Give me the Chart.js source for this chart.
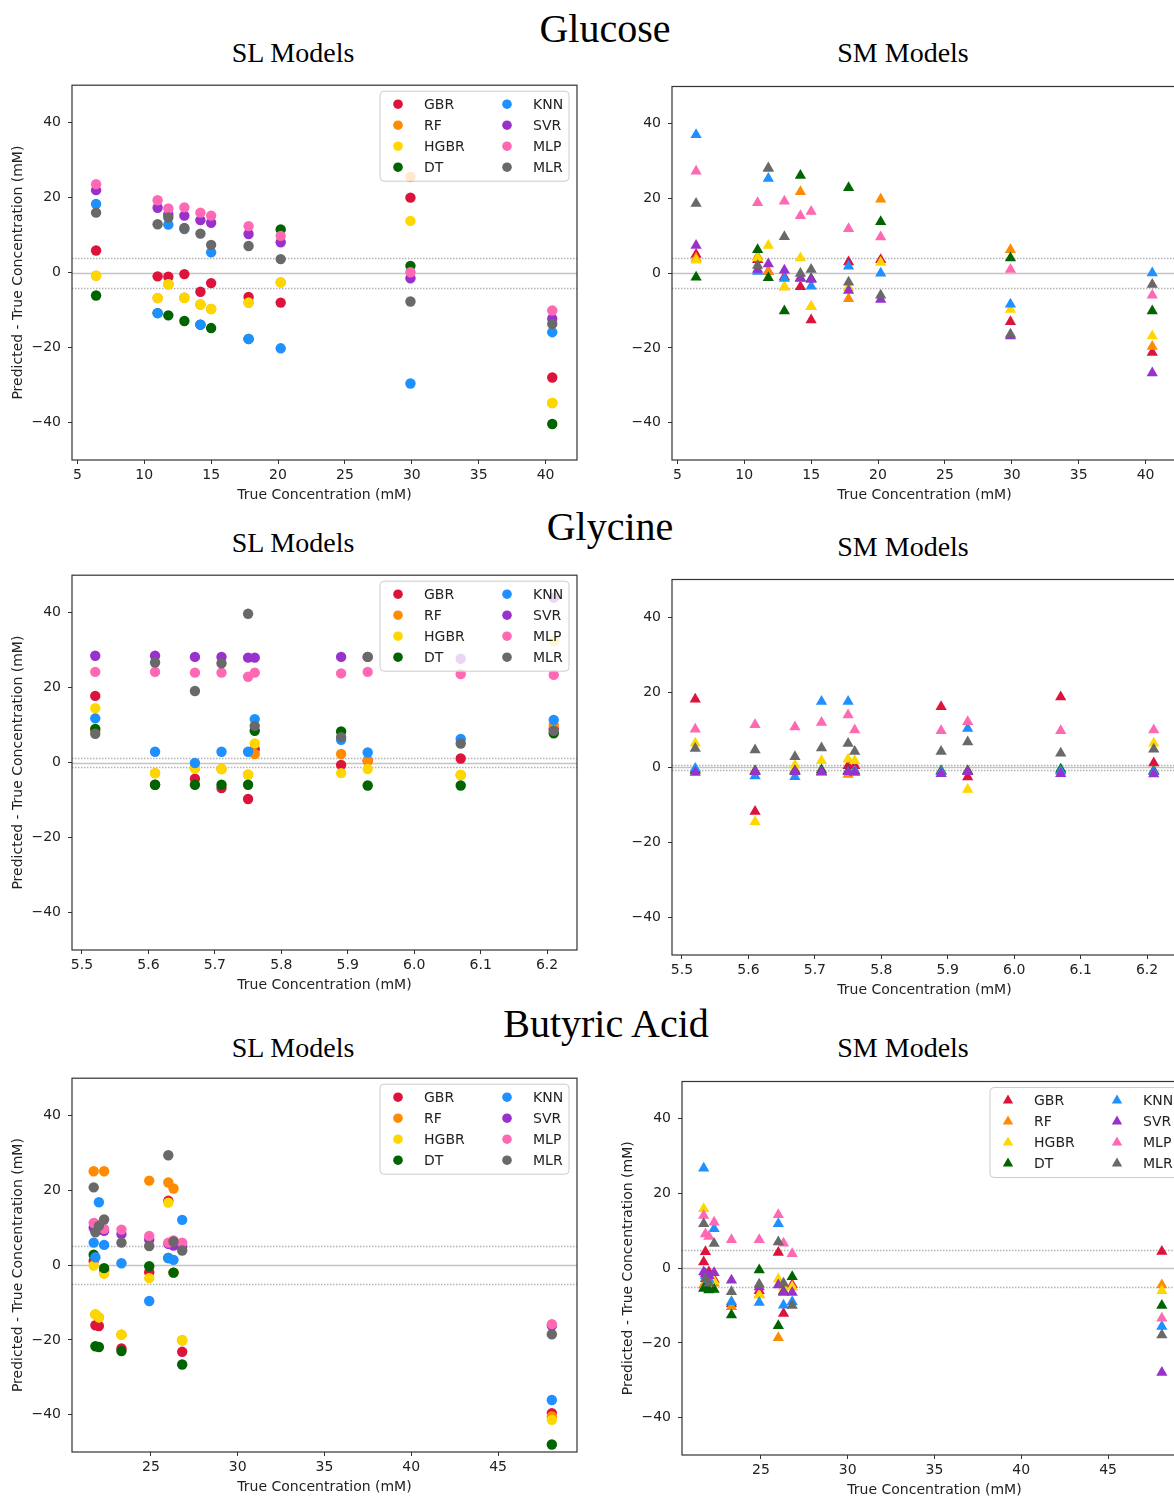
<!DOCTYPE html>
<html><head><meta charset="utf-8">
<script src="https://cdn.jsdelivr.net/npm/chart.js@4.4.1/dist/chart.umd.min.js"></script>
<style>
html,body{margin:0;padding:0;background:#fff;}
#page{position:relative;width:1174px;height:1500px;overflow:hidden;background:#fff;}
.t{position:absolute;width:400px;text-align:center;font-family:'Liberation Serif','Times New Roman',serif;line-height:1;color:#000;white-space:nowrap}
.big{font-size:40px}
.sub{font-size:28px}
canvas{position:absolute}
</style></head><body><div id="page">
<div class="t big" style="left:405px;top:9px">Glucose</div>
<div class="t sub" style="left:93px;top:39px">SL Models</div>
<div class="t sub" style="left:703px;top:39px">SM Models</div>
<div class="t big" style="left:410px;top:507px">Glycine</div>
<div class="t sub" style="left:93px;top:529px">SL Models</div>
<div class="t sub" style="left:703px;top:533px">SM Models</div>
<div class="t big" style="left:406px;top:1004px">Butyric Acid</div>
<div class="t sub" style="left:93px;top:1034px">SL Models</div>
<div class="t sub" style="left:703px;top:1034px">SM Models</div>
<canvas id="c1"></canvas><canvas id="c2"></canvas>
<canvas id="c3"></canvas><canvas id="c4"></canvas>
<canvas id="c5"></canvas><canvas id="c6"></canvas>
</div>
<script>
// ---------- categories / ticks ----------
const models = ['GBR','RF','HGBR','DT','KNN','SVR','MLP','MLR'];
const yTicks = [-40, -20, 0, 20, 40];
const gluTicks = [5, 10, 15, 20, 25, 30, 35, 40];
const glyTicks = [5.5, 5.6, 5.7, 5.8, 5.9, 6.0, 6.1, 6.2];
const butTicks = [25, 30, 35, 40, 45];
const gluBand = [-4, 0, 4];
const glySLBand = [-1.3, 0, 1.3];
const glySMBand = [-0.7, 0, 0.7];
const butBand = [-5, 0, 5];

// ---------- true concentrations ----------
const gluX = [6.4, 11.0, 11.8, 13.0, 14.2, 15.0, 17.8, 20.2, 29.9, 40.5];
const glyX = [5.52, 5.61, 5.67, 5.71, 5.75, 5.76, 5.89, 5.93, 6.07, 6.21];
const butX = [21.7, 21.8, 22.0, 22.3, 23.3, 24.9, 26.0, 26.3, 26.8, 48.1];

// ---------- Glucose SL (predicted - true) ----------
const gluSL_GBR  = [5.9, -1.0, -1.1, -0.4, -5.1, -2.8, -6.5, -8.0, 20.0, -28.0];
const gluSL_RF   = [-0.8, -6.8, -3.1, -6.7, -8.5, -9.7, -8.0, -2.6, 25.5, -34.8];
const gluSL_HGBR = [-0.8, -6.8, -3.1, -6.7, -8.5, -9.7, -8.0, -2.6, 13.8, -34.8];
const gluSL_DT   = [-6.1, -10.8, -11.4, -12.9, -13.9, -14.8, -17.7, 11.5, 1.8, -40.4];
const gluSL_KNN  = [18.3, -10.8, 12.8, 11.6, -13.9, 5.4, -17.7, -20.2, -29.6, -15.9];
const gluSL_SVR  = [22.0, 17.3, 15.5, 15.2, 14.0, 13.3, 10.3, 8.1, -1.5, -12.3];
const gluSL_MLP  = [23.6, 19.3, 17.1, 17.4, 16.0, 15.2, 12.4, 9.8, 0.1, -10.1];
const gluSL_MLR  = [16.0, 12.9, 14.7, 11.9, 10.4, 7.4, 7.1, 3.6, -7.7, -13.7];

// ---------- Glucose SM ----------
const gluSM_GBR  = [5.0, 3.6, 0.5, -1.0, -3.6, -12.5, 3.0, 3.6, -13.0, -21.2];
const gluSM_RF   = [4.0, 4.5, 0.5, -3.7, 21.8, -9.0, -6.8, 19.8, 6.3, -19.6];
const gluSM_HGBR = [3.5, 4.1, 7.4, -3.7, 4.1, -9.0, -3.9, 2.9, -9.7, -16.8];
const gluSM_DT   = [-1.1, 6.3, -1.2, -10.1, 26.2, -1.5, 22.9, 13.8, 4.1, -10.1];
const gluSM_KNN  = [37.1, 0.5, 25.4, -1.4, -1.5, -3.5, 1.9, 0.0, -8.3, 0.1];
const gluSM_SVR  = [7.4, 1.0, 2.5, 0.8, -1.2, -1.7, -4.6, -7.0, -16.8, -26.7];
const gluSM_MLP  = [27.3, 18.9, 28.0, 19.3, 15.4, 16.5, 11.9, 9.7, 1.0, -5.9];
const gluSM_MLR  = [18.7, 2.1, 28.2, 9.8, -0.1, 1.0, -2.4, -5.9, -16.3, -3.0];

// ---------- Glycine SL ----------
const glySL_GBR  = [17.8, -5.9, -4.3, -6.8, -9.7, 3.6, -0.6, 0.5, 1.1, 9.0];
const glySL_RF   = [8.5, -2.8, -1.5, -1.7, -3.2, 2.3, 2.3, 0.5, -3.3, 10.0];
const glySL_HGBR = [14.5, -2.8, -1.5, -1.7, -3.2, 5.1, -2.8, -1.7, -3.3, 32.4];
const glySL_DT   = [9.0, -5.9, -5.9, -5.9, -5.9, 8.5, 8.3, -6.1, -6.1, 7.8];
const glySL_KNN  = [11.8, 2.9, -0.1, 2.9, 2.9, 11.6, 6.1, 2.7, 6.3, 11.4];
const glySL_SVR  = [28.5, 28.5, 28.2, 28.2, 28.0, 28.0, 28.2, 28.2, 27.7, 44.0];
const glySL_MLP  = [24.2, 24.2, 24.0, 24.0, 22.9, 24.0, 23.8, 24.2, 23.6, 23.4];
const glySL_MLR  = [7.7, 26.7, 19.1, 26.5, 39.7, 9.8, 6.8, 28.2, 5.1, 8.5];

// ---------- Glycine SM ----------
const glySM_GBR  = [18.1, -11.8, -0.8, -1.3, 0.4, 0.4, 16.1, -2.6, 18.7, 1.1];
const glySM_RF   = [-0.8, -1.0, -1.0, -1.3, -1.9, -1.0, -1.0, -1.0, -1.0, -1.0];
const glySM_HGBR = [6.4, -14.5, 0.5, 1.7, 2.1, 1.7, -1.0, -5.9, -1.0, 6.4];
const glySM_DT   = [-0.8, -1.0, -1.0, -0.7, -1.0, -1.0, -1.0, -1.0, -0.5, -1.0];
const glySM_KNN  = [-0.3, -2.3, -2.5, 17.5, 17.5, -1.0, -1.2, 10.3, -1.0, -1.2];
const glySM_SVR  = [-1.4, -1.2, -1.2, -1.2, -1.2, -1.4, -1.7, -1.2, -1.7, -1.8];
const glySM_MLP  = [10.1, 11.3, 10.7, 11.9, 13.9, 9.9, 9.7, 12.1, 9.7, 9.9];
const glySM_MLR  = [5.0, 4.6, 2.8, 5.1, 6.3, 4.2, 4.2, 6.7, 3.7, 4.8];

// ---------- Butyric Acid SL ----------
const butSL_GBR  = [1.1, -16.1, -16.3, -1.5, -22.3, -1.9, 17.2, -2.0, -23.2, -39.6];
const butSL_RF   = [25.1, -13.2, -14.0, 25.1, -18.6, 22.6, 22.1, 20.5, -20.1, -40.5];
const butSL_HGBR = [-0.1, -13.2, -14.0, -2.3, -18.6, -3.5, 16.7, -2.0, -20.1, -41.4];
const butSL_DT   = [2.8, -21.7, -21.9, -0.8, -23.0, -0.3, 1.9, -2.0, -26.6, -48.0];
const butSL_KNN  = [6.0, 2.1, 16.8, 5.4, 0.5, -9.6, 1.9, 1.4, 12.1, -36.1];
const butSL_SVR  = [10.0, 9.5, 9.5, 9.2, 8.3, 6.8, 5.7, 5.2, 5.0, -16.2];
const butSL_MLP  = [11.3, 11.0, 10.0, 9.7, 9.5, 7.8, 6.0, 6.6, 6.0, -15.8];
const butSL_MLR  = [20.8, 8.8, 10.5, 12.2, 6.0, 5.1, 29.4, 6.3, 3.9, -18.5];

// ---------- Butyric Acid SM ----------
const butSM_GBR  = [1.7, 4.4, -1.0, -3.0, -9.5, -6.0, 4.2, -12.1, -4.4, 4.5];
const butSM_RF   = [-4.5, -4.0, -5.0, -4.0, -10.3, -7.0, -18.6, -6.0, -5.0, -4.5];
const butSM_HGBR = [15.9, -4.5, -5.5, -3.5, -9.0, -7.2, -2.9, -5.0, -5.0, -6.0];
const butSM_DT   = [-5.4, -5.0, -5.8, -5.7, -12.5, -0.5, -15.4, -6.3, -2.3, -10.0];
const butSM_KNN  = [26.8, -2.0, -3.0, 10.6, -9.0, -9.2, 11.9, -9.9, -9.0, -15.6];
const butSM_SVR  = [-1.0, -1.5, -2.0, -1.2, -3.2, -5.0, -4.5, -6.5, -6.5, -27.9];
const butSM_MLP  = [14.1, 9.2, 8.5, 12.3, 7.6, 7.6, 14.3, 6.7, 3.9, -13.4];
const butSM_MLR  = [11.9, -2.8, -4.0, 6.6, -6.3, -4.3, 7.0, -4.0, -10.0, -17.9];

// ---------- styles ----------
const colors = ['#DC143C','#FF8C00','#FFD700','#006400','#1E90FF','#9932CC','#FF69B4','#696969'];
const FONT = "'DejaVu Sans', Verdana, sans-serif";
const AXIS = '#333333';

const fmt = (v, dec) => (v < 0 ? '\u2212' : '') + Math.abs(v).toFixed(dec);

function drawMarker(ctx, style, x, y, r) {
  ctx.beginPath();
  if (style === 'triangle') {
    ctx.moveTo(x, y - r);
    ctx.lineTo(x + r * 0.866, y + r * 0.5);
    ctx.lineTo(x - r * 0.866, y + r * 0.5);
    ctx.closePath();
  } else {
    ctx.arc(x, y, r, 0, Math.PI * 2);
  }
  ctx.fill();
}

const refLines = {
  id: 'refLines',
  beforeDatasetsDraw(chart, args, opts) {
    const {ctx, chartArea: a, scales: {y}} = chart;
    ctx.save();
    (opts.values || []).forEach(v => {
      const py = Math.round(y.getPixelForValue(v)) + 0.5;
      ctx.beginPath();
      ctx.lineWidth = 1.6;
      if (v === 0) { ctx.setLineDash([]); ctx.strokeStyle = '#c4c4c4'; }
      else { ctx.setLineDash([1.5, 1.5]); ctx.strokeStyle = '#b4b4b4'; }
      ctx.moveTo(a.left, py); ctx.lineTo(a.right, py); ctx.stroke();
    });
    ctx.restore();
  }
};

const frame = {
  id: 'frame',
  afterDatasetsDraw(chart) {
    const {ctx, chartArea: a} = chart;
    ctx.save();
    ctx.strokeStyle = AXIS; ctx.lineWidth = 1.2;
    ctx.strokeRect(a.left, a.top, a.right - a.left, a.bottom - a.top);
    ctx.restore();
  }
};

const cornerLegend = {
  id: 'cornerLegend',
  afterDatasetsDraw(chart, args, opts) {
    if (!opts.show) return;
    const {ctx, chartArea: a} = chart;
    const bx = a.right - 197, by = a.top + 6, bw = 189, bh = 90;
    ctx.save();
    ctx.beginPath();
    if (ctx.roundRect) ctx.roundRect(bx, by, bw, bh, 4); else ctx.rect(bx, by, bw, bh);
    ctx.globalAlpha = 0.8; ctx.fillStyle = '#ffffff'; ctx.fill();
    ctx.globalAlpha = 1; ctx.strokeStyle = '#cccccc'; ctx.lineWidth = 1; ctx.stroke();
    ctx.font = '14px ' + FONT; ctx.textBaseline = 'middle'; ctx.textAlign = 'left';
    chart.data.datasets.forEach((ds, i) => {
      const col = Math.floor(i / 4), row = i % 4;
      const mx = bx + 18 + col * 109, my = by + 13 + row * 21;
      ctx.fillStyle = ds.backgroundColor;
      drawMarker(ctx, opts.style, mx, my, opts.style === 'triangle' ? 6 : 4.8);
      ctx.fillStyle = '#222';
      ctx.fillText(ds.label, mx + 26, my + 1);
    });
    ctx.restore();
  }
};

function build(id, area, xs, xMin, xMax, xTicks, xDec, series, style, band, showLegend, showYTitle) {
  const cv = document.getElementById(id);
  const W = area.x1 - area.x0 + 80, H = area.y1 - area.y0 + 50;
  cv.width = W; cv.height = H;
  cv.style.left = (area.x0 - 72) + 'px'; cv.style.top = (area.y0 - 5) + 'px';
  cv.style.width = W + 'px'; cv.style.height = H + 'px';
  const r = style === 'triangle' ? 6.5 : 5.2;
  const datasets = models.map((m, i) => ({
    label: m,
    data: xs.map((x, j) => ({x: x, y: series[i][j]})),
    backgroundColor: colors[i], borderColor: colors[i], borderWidth: 0,
    pointStyle: style, pointRadius: r, pointHoverRadius: r,
    order: models.length - i
  }));
  const tickFont = {family: FONT, size: 14};
  return new Chart(cv, {
    type: 'scatter',
    data: {datasets},
    options: {
      responsive: false, animation: false, devicePixelRatio: 1,
      layout: {padding: {top: 5, right: 8, left: 0, bottom: 0}},
      plugins: {legend: {display: false}, tooltip: {enabled: false},
        refLines: {values: band}, cornerLegend: {show: showLegend, style: style}},
      scales: {
        x: {
          type: 'linear', min: xMin, max: xMax,
          afterBuildTicks: s => { s.ticks = xTicks.map(v => ({value: v})); },
          afterFit: s => { s.height = 45; s.paddingLeft = 0; s.paddingRight = 0; },
          grid: {drawOnChartArea: false, drawTicks: true, tickLength: 4, color: AXIS, lineWidth: 1},
          border: {display: false},
          ticks: {font: tickFont, color: '#222', padding: 3, maxRotation: 0, autoSkip: false,
                  callback: v => fmt(v, xDec)},
          title: {display: true, text: 'True Concentration (mM)', font: tickFont, color: '#222',
                  padding: {top: 0, bottom: 1}}
        },
        y: {
          type: 'linear', min: -50, max: 50,
          afterBuildTicks: s => { s.ticks = yTicks.map(v => ({value: v})); },
          afterFit: s => { s.width = 72; s.paddingTop = 0; s.paddingBottom = 0; },
          grid: {drawOnChartArea: false, drawTicks: true, tickLength: 4, color: AXIS, lineWidth: 1},
          border: {display: false},
          ticks: {font: tickFont, color: '#222', padding: 7, autoSkip: false, callback: v => fmt(v, 0)},
          title: {display: showYTitle, text: 'Predicted - True Concentration (mM)', font: tickFont,
                  color: '#222', padding: {top: 10, bottom: 0}}
        }
      }
    },
    plugins: [refLines, frame, cornerLegend]
  });
}

build('c1', {x0: 72, y0: 85, x1: 577, y1: 460}, gluX, 4.6, 42.35, gluTicks, 0,
  [gluSL_GBR, gluSL_RF, gluSL_HGBR, gluSL_DT, gluSL_KNN, gluSL_SVR, gluSL_MLP, gluSL_MLR],
  'circle', gluBand, true, true);
build('c2', {x0: 672, y0: 85, x1: 1177, y1: 460}, gluX, 4.6, 42.35, gluTicks, 0,
  [gluSM_GBR, gluSM_RF, gluSM_HGBR, gluSM_DT, gluSM_KNN, gluSM_SVR, gluSM_MLP, gluSM_MLR],
  'triangle', gluBand, false, false);
build('c3', {x0: 72, y0: 575, x1: 577, y1: 950}, glyX, 5.485, 6.245, glyTicks, 1,
  [glySL_GBR, glySL_RF, glySL_HGBR, glySL_DT, glySL_KNN, glySL_SVR, glySL_MLP, glySL_MLR],
  'circle', glySLBand, true, true);
build('c4', {x0: 672, y0: 578, x1: 1177, y1: 955}, glyX, 5.485, 6.245, glyTicks, 1,
  [glySM_GBR, glySM_RF, glySM_HGBR, glySM_DT, glySM_KNN, glySM_SVR, glySM_MLP, glySM_MLR],
  'triangle', glySMBand, false, false);
build('c5', {x0: 72, y0: 1078, x1: 577, y1: 1452}, butX, 20.45, 49.55, butTicks, 0,
  [butSL_GBR, butSL_RF, butSL_HGBR, butSL_DT, butSL_KNN, butSL_SVR, butSL_MLP, butSL_MLR],
  'circle', butBand, true, true);
build('c6', {x0: 682, y0: 1080, x1: 1187, y1: 1455}, butX, 20.45, 49.55, butTicks, 0,
  [butSM_GBR, butSM_RF, butSM_HGBR, butSM_DT, butSM_KNN, butSM_SVR, butSM_MLP, butSM_MLR],
  'triangle', butBand, true, true);
</script>
</body></html>
